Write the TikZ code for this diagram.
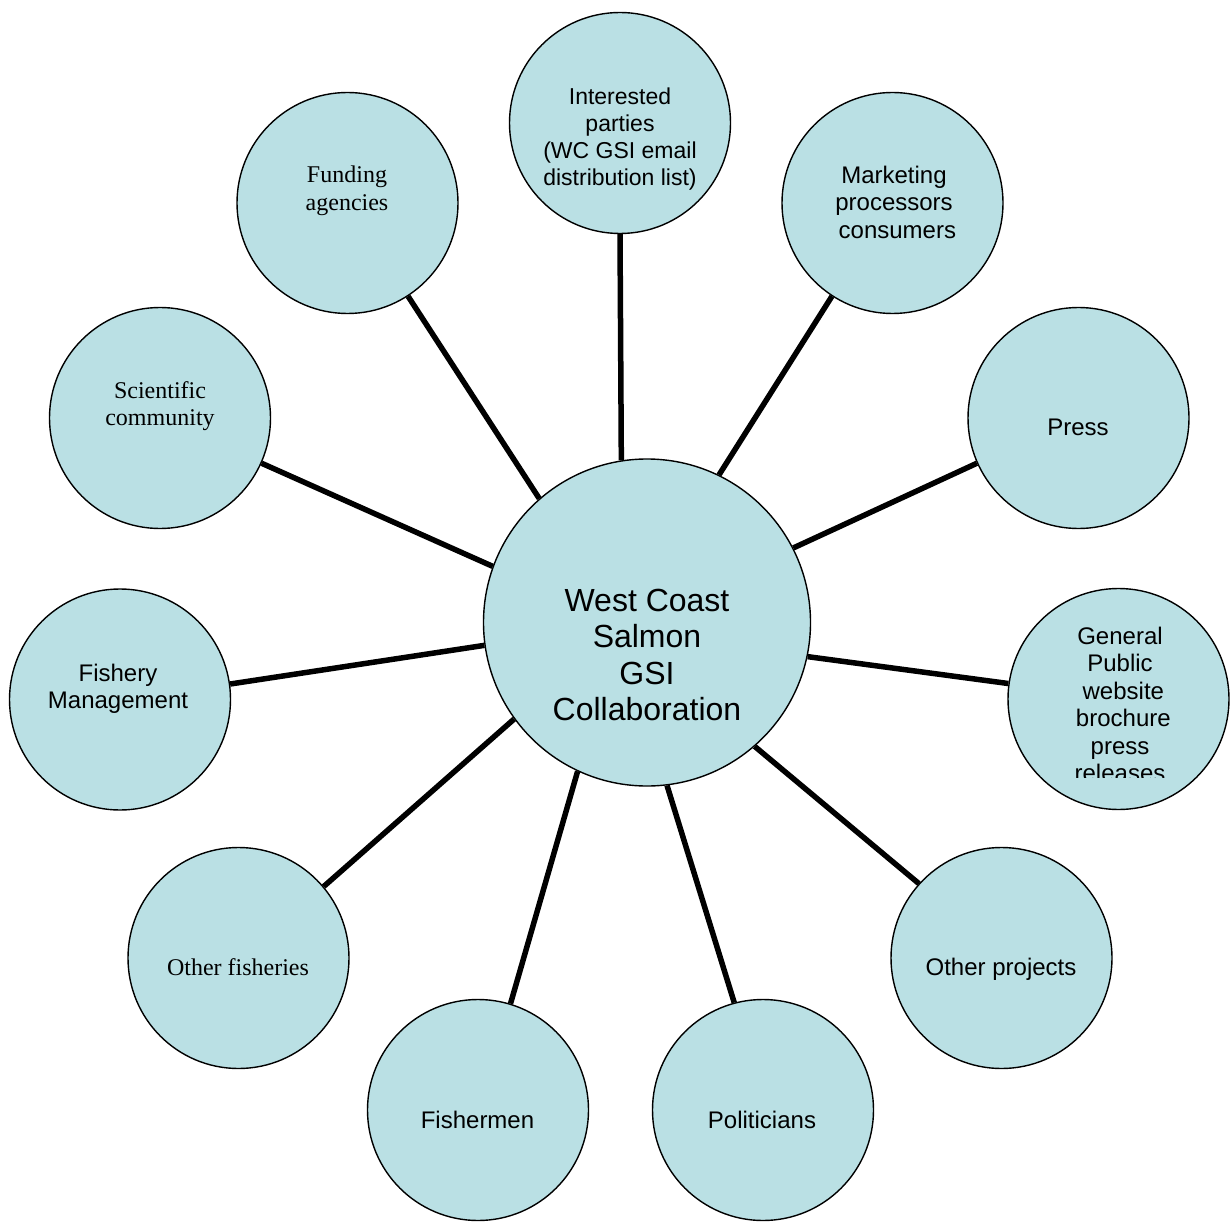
\documentclass[tikz,border=0pt]{standalone}
\usepackage{fontspec}
\setmainfont{Liberation Sans}
\newfontfamily\serifface{Liberation Serif}
\usetikzlibrary{backgrounds}
\definecolor{bubblefill}{RGB}{186,224,228}
\begin{document}
\begin{tikzpicture}[x=1pt,y=-1pt,
  bubble/.style={circle,draw=black,line width=1.4pt,fill=bubblefill,minimum size=221pt,inner sep=0pt},
  hub/.style={bubble,minimum size=327pt},
  lbl/.style={inner sep=0pt,align=center,font=\fontsize{24}{27.5}\selectfont},
  smalllbl/.style={lbl,font=\fontsize{23}{27}\selectfont},
  seriflbl/.style={lbl,font=\serifface\fontsize{24}{27.5}\selectfont},
  hublbl/.style={lbl,font=\fontsize{32}{36.5}\selectfont},
  spoke/.style={line width=5.5pt}]
\useasboundingbox (0,0) rectangle (1231,1222);
\begin{scope}[on background layer]
  \fill[white] (0,0) rectangle (1231,1222);
\end{scope}

% hub and surrounding bubbles
\node[hub] (c) at (647,622.5) {};
\node[bubble] (ip) at (620,123) {};
\node[bubble] (fund) at (347.5,203) {};
\node[bubble] (mkt) at (892.5,203) {};
\node[bubble] (sci) at (160,418) {};
\node[bubble] (press) at (1078.5,418) {};
\node[bubble] (fm) at (120,699.5) {};
\node[bubble] (gp) at (1118.5,699) {};
\node[bubble] (of) at (238.5,958) {};
\node[bubble] (op) at (1001.5,958) {};
\node[bubble] (fish) at (478,1110) {};
\node[bubble] (pol) at (763,1110) {};

% texts
\node[hublbl] (c-t) at (647,655) {West Coast\\Salmon\\GSI\\Collaboration};
\node[smalllbl] (ip-t) at (620,139) {Interested\\parties\\(WC GSI email\\distribution list)};
\node[seriflbl] (fund-t) at (347,191) {Funding\\agencies};
\node[lbl] (mkt-t) at (894,202) {Marketing\\processors\\\ consumers};
\node[seriflbl] (sci-t) at (160,406) {Scientific\\community};
\node[lbl,anchor=base] (press-t) at (1078,435) {Press};
\node[lbl] (fm-t) at (118,689) {Fishery\\Management};
\begin{scope}
  \clip (1000,590) rectangle (1231,777);
  \node[lbl] (gp-t) at (1120,704.3) {General\\Public\\\ website\\\ brochure\\press\\releases};
\end{scope}
\node[seriflbl,anchor=base] (of-t) at (238,975) {Other fisheries};
\node[lbl,anchor=base] (op-t) at (1001,975) {Other projects};
\node[lbl,anchor=base] (fish-t) at (477.5,1128) {Fishermen};
\node[lbl,anchor=base] (pol-t) at (762,1128) {Politicians};

% spokes
\begin{scope}[on background layer]
  \draw[spoke] (ip.270) -- (c.99.5);
  \draw[spoke] (fund.303.9) -- (c.131.1);
  \draw[spoke] (mkt.237) -- (c.64.3);
  \draw[spoke] (sci.336.2) -- (c.160.8);
  \draw[spoke] (press.204.1) -- (c.27.2);
  \draw[spoke] (fm.8) -- (c.188.6);
  \draw[spoke] (gp.172.1) -- (c.348.6);
  \draw[spoke] (of.40.5) -- (c.216);
  \draw[spoke] (op.138.5) -- (c.311.9);
  \draw[spoke] (fish.73.3) -- (c.245.2);
  \draw[spoke] (pol.105.7) -- (c.277.4);
\end{scope}
\end{tikzpicture}
\end{document}
